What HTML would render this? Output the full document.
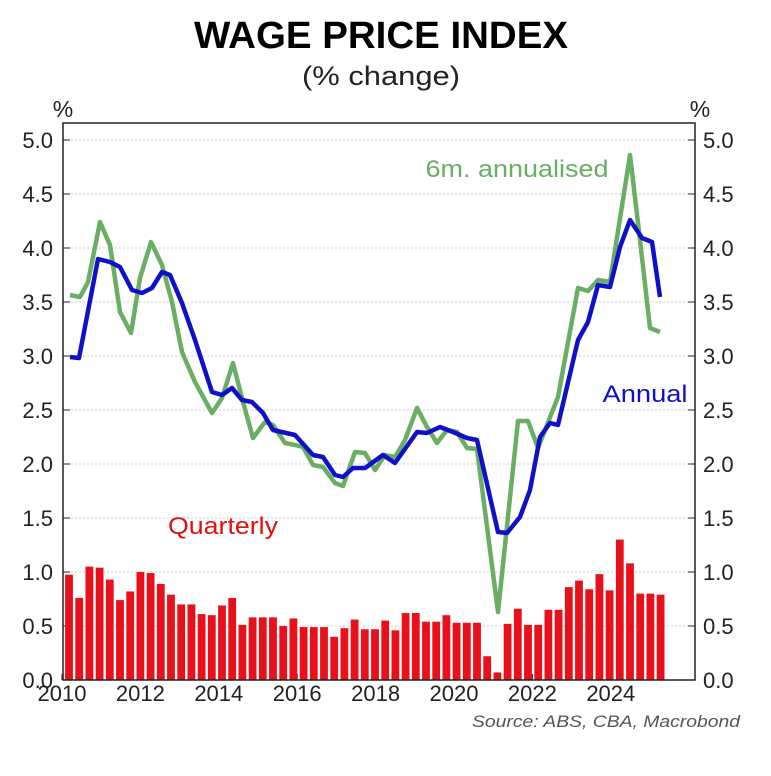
<!DOCTYPE html>
<html><head><meta charset="utf-8"><style>
body{margin:0;background:#fff;}
svg text{font-family:"Liberation Sans",sans-serif;}
</style></head><body>
<svg id="s" width="771" height="771" viewBox="0 0 771 771" xmlns="http://www.w3.org/2000/svg">
<rect width="771" height="771" fill="#fff"/>
<text x="381" y="48" text-anchor="middle" font-size="38" font-weight="bold" fill="#000" textLength="374" lengthAdjust="spacingAndGlyphs">WAGE PRICE INDEX</text>
<text x="381" y="85" text-anchor="middle" font-size="27" fill="#222" textLength="158" lengthAdjust="spacingAndGlyphs">(% change)</text>
<text x="63" y="117" text-anchor="middle" font-size="23" fill="#222">%</text>
<text x="700" y="117" text-anchor="middle" font-size="23" fill="#222">%</text>
<g id="grid"></g>
<g id="bars"></g>
<polyline fill="none" stroke="#6aae64" stroke-width="4.5" stroke-linejoin="round" points="70,295 80,297 88,282 100,222 110,245 120,312 131,333 140,278 151,242 162,265 172,302 182,352 195,382 212,413 222,398 233,363 243,402 253,438 265,422 273,425 285,443 295,445 303,447 313,465 323,467 335,483 343,486 355,452 365,453 375,470 385,455 395,457 405,440 417,408 427,427 437,443 447,430 457,432 467,448 477,449 498,612 518,421 528,421 538,448 558,397 578,288 588,291 598,280 610,282 630,155 640,240 650,328 660,332"/>
<polyline fill="none" stroke="#1010c8" stroke-width="4.5" stroke-linejoin="round" points="70,357 79,358 98,259 110,262 120,267 132,290 142,293 152,288 162,272 170,275 182,303 195,340 212,392 222,395 232,388 242,400 252,402 263,413 273,430 295,435 313,455 323,457 335,475 343,477 353,468 365,468 383,455 395,463 417,432 427,433 440,427 453,432 467,438 477,440 498,532 507,533 520,517 530,490 540,437 550,423 558,425 578,340 588,322 598,285 610,287 620,247 630,220 642,238 652,242 660,297"/>
<rect x="63" y="123" width="632" height="557" fill="none" stroke="#222" stroke-width="1.5"/>
<text x="517" y="177" text-anchor="middle" font-size="24" fill="#6aae64" textLength="183" lengthAdjust="spacingAndGlyphs">6m. annualised</text>
<text x="645" y="402" text-anchor="middle" font-size="24" fill="#1010c8" textLength="85" lengthAdjust="spacingAndGlyphs">Annual</text>
<text x="223" y="534" text-anchor="middle" font-size="24" fill="#e01010" textLength="110" lengthAdjust="spacingAndGlyphs">Quarterly</text>
<g id="xl" font-size="22" fill="#222" text-anchor="middle"></g>
<text x="740" y="727" text-anchor="end" font-size="17" font-style="italic" fill="#555" textLength="268" lengthAdjust="spacingAndGlyphs">Source: ABS, CBA, Macrobond</text>
</svg>
<script>
var NS="http://www.w3.org/2000/svg";
function el(p,t,a,txt){var e=document.createElementNS(NS,t);for(var k in a)e.setAttribute(k,a[k]);if(txt!=null)e.textContent=txt;document.getElementById(p).appendChild(e);}
for(var i=0;i<=10;i++){var v=i*0.5,y=680-108*v;
 if(i>0)el("grid","line",{x1:63,x2:695,y1:y,y2:y,stroke:"#ccc","stroke-dasharray":"2,2","stroke-width":1});
 el("grid","line",{x1:63,x2:70,y1:y,y2:y,stroke:"#222"});
 el("grid","line",{x1:688,x2:695,y1:y,y2:y,stroke:"#222"});
 el("grid","text",{x:53,y:y+8,"text-anchor":"end","font-size":22,fill:"#222"},v.toFixed(1));
 el("grid","text",{x:703,y:y+8,"font-size":22,fill:"#222"},v.toFixed(1));}
var b=[0.975,0.76,1.05,1.04,0.93,0.74,0.82,1.0,0.99,0.89,0.79,0.70,0.70,0.61,0.60,0.69,0.76,0.51,0.58,0.58,0.58,0.50,0.57,0.49,0.49,0.49,0.40,0.48,0.56,0.47,0.47,0.55,0.46,0.62,0.62,0.54,0.54,0.60,0.53,0.53,0.53,0.22,0.07,0.52,0.66,0.51,0.51,0.65,0.65,0.86,0.92,0.84,0.98,0.83,1.30,1.08,0.80,0.80,0.79];
for(var i=0;i<b.length;i++){var c=69+10.2*i,h=108*b[i];el("bars","rect",{x:c-3.9,y:680-h,width:7.8,height:h,fill:"#e8101a"});}
for(var y=2010;y<=2024;y+=2){var x=62+(y-2010)*39.2;el("xl","text",{x:x,y:701},String(y));el("grid","line",{x1:x,x2:x,y1:680,y2:674,stroke:"#222"});}
</script>
</body></html>
